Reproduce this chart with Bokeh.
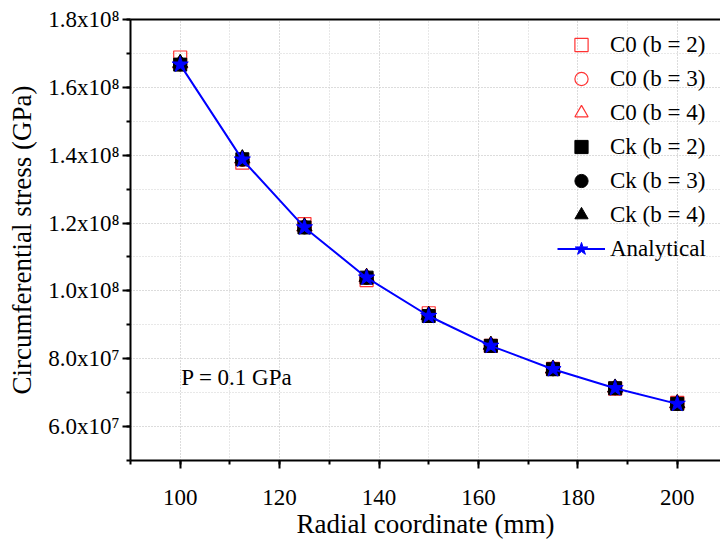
from bokeh.plotting import figure
from bokeh.models import FixedTicker, LinearAxis, Range1d, Legend, LegendItem, Label
from bokeh.embed import file_html
from bokeh.resources import INLINE

# ---- data ----
r = [100, 112.5, 125, 137.5, 150, 162.5, 175, 187.5, 200]
c0_b2 = [1.688e8, 1.378e8, 1.197e8, 1.032e8, 0.934e8, 0.838e8, 0.770e8, 0.712e8, 0.670e8]
c0_b3 = [1.668e8, 1.386e8, 1.188e8, 1.038e8, 0.927e8, 0.838e8, 0.769e8, 0.713e8, 0.667e8]
c0_b4 = [1.670e8, 1.389e8, 1.189e8, 1.040e8, 0.928e8, 0.840e8, 0.770e8, 0.714e8, 0.668e8]
ck_b2 = [1.667e8, 1.388e8, 1.187e8, 1.039e8, 0.926e8, 0.838e8, 0.769e8, 0.713e8, 0.667e8]
ck_b3 = [1.668e8, 1.387e8, 1.187e8, 1.039e8, 0.926e8, 0.838e8, 0.769e8, 0.713e8, 0.667e8]
ck_b4 = [1.672e8, 1.391e8, 1.190e8, 1.041e8, 0.929e8, 0.841e8, 0.771e8, 0.715e8, 0.669e8]
analytical = [1.667e8, 1.387e8, 1.187e8, 1.039e8, 0.926e8, 0.838e8, 0.769e8, 0.713e8, 0.667e8]

x_major = [100, 120, 140, 160, 180, 200]
x_minor = [90, 100, 110, 120, 130, 140, 150, 160, 170, 180, 190, 200, 210]
y_major = [6e7, 8e7, 1.0e8, 1.2e8, 1.4e8, 1.6e8, 1.8e8]
y_minor = [5e7, 6e7, 7e7, 8e7, 9e7, 1.0e8, 1.1e8, 1.2e8, 1.3e8, 1.4e8, 1.5e8, 1.6e8, 1.7e8, 1.8e8]
y_labels = ["6.0x10\u2077", "8.0x10\u2077", "1.0x10\u2078", "1.2x10\u2078",
            "1.4x10\u2078", "1.6x10\u2078", "1.8x10\u2078"]
x_title = "Radial coordinate (mm)"
y_title = "Circumferential stress (GPa)"

FONT = "Liberation Serif"

p = figure(width=720, height=541, output_backend="svg", toolbar_location=None,
           x_range=Range1d(90, 208.7), y_range=Range1d(5e7, 1.8e8),
           min_border_left=130, min_border_right=0, min_border_top=19, min_border_bottom=81)
p.outline_line_color = None
p.background_fill_color = "white"
p.border_fill_color = "white"

# axes
xa = p.xaxis[0]
ya = p.yaxis[0]
xa.ticker = FixedTicker(ticks=x_major, minor_ticks=x_minor)
ya.ticker = FixedTicker(ticks=y_major, minor_ticks=y_minor)
ya.major_label_overrides = {v: s for v, s in zip(y_major, y_labels)}
for ax in (xa, ya):
    ax.axis_line_width = 2
    ax.axis_line_color = "black"
    ax.major_tick_line_width = 2
    ax.minor_tick_line_width = 2
    ax.major_tick_in = 0
    ax.major_tick_out = 8
    ax.minor_tick_in = 0
    ax.minor_tick_out = 4
    ax.major_label_text_font = FONT
    ax.major_label_text_font_size = "23px"
    ax.major_label_text_color = "black"
    ax.axis_label_text_font = FONT
    ax.axis_label_text_font_size = "27px"
    ax.axis_label_text_font_style = "normal"
    ax.axis_label_text_color = "black"
xa.axis_label = x_title
ya.axis_label = y_title
xa.major_label_standoff = 21
xa.axis_label_standoff = 1
ya.major_label_standoff = 3
ya.axis_label_standoff = 8

# top border
top = LinearAxis(ticker=FixedTicker(ticks=[]), axis_line_width=2, axis_line_color="black",
                 major_tick_line_color=None, minor_tick_line_color=None,
                 major_label_text_font_size="0px")
p.add_layout(top, "above")

# grids
for g in (p.xgrid[0], p.ygrid[0]):
    g.grid_line_color = "#d0d0d0"
    g.grid_line_dash = "1 2"
    g.grid_line_width = 1
    g.minor_grid_line_color = "#d0d0d0"
    g.minor_grid_line_dash = "1 2"
    g.minor_grid_line_width = 1

RED = "#ff3333"
r1 = p.scatter(r, c0_b2, marker="square", size=13, fill_color=None, line_color=RED, line_width=1.2)
r2 = p.scatter(r, c0_b3, marker="circle", size=13, fill_color=None, line_color=RED, line_width=1.2)
r3 = p.scatter(r, c0_b4, marker="triangle", size=15, fill_color=None, line_color=RED, line_width=1.2)
r4 = p.scatter(r, ck_b2, marker="square", size=13, fill_color="black", line_color="black")
r5 = p.scatter(r, ck_b3, marker="circle", size=13, fill_color="black", line_color="black")
r6 = p.scatter(r, ck_b4, marker="triangle", size=15, fill_color="black", line_color="black")
r7a = p.line(r, analytical, line_color="#0000ff", line_width=2)
r7b = p.scatter(r, analytical, marker="star", size=17, fill_color="#0000ff", line_color="#0000ff")

legend = Legend(items=[
    LegendItem(label="C0 (b = 2)", renderers=[r1]),
    LegendItem(label="C0 (b = 3)", renderers=[r2]),
    LegendItem(label="C0 (b = 4)", renderers=[r3]),
    LegendItem(label="Ck (b = 2)", renderers=[r4]),
    LegendItem(label="Ck (b = 3)", renderers=[r5]),
    LegendItem(label="Ck (b = 4)", renderers=[r6]),
    LegendItem(label="Analytical", renderers=[r7a, r7b]),
], location=(427, 195), orientation="vertical")
legend.border_line_color = None
legend.background_fill_alpha = 0
legend.padding = 0
legend.margin = 0
legend.spacing = 1
legend.glyph_width = 48
legend.glyph_height = 33
legend.label_height = 20
legend.label_standoff = 5
legend.label_text_font = FONT
legend.label_text_font_size = "23px"
legend.label_text_color = "black"
legend.label_text_baseline = "middle"
p.add_layout(legend, "center")

p.add_layout(Label(x=100.2, y=7.45e7, text="P = 0.1 GPa", text_font=FONT,
                   text_font_size="23px", text_baseline="middle", text_color="black"))

open("out.html", "w").write(file_html(p, INLINE))
